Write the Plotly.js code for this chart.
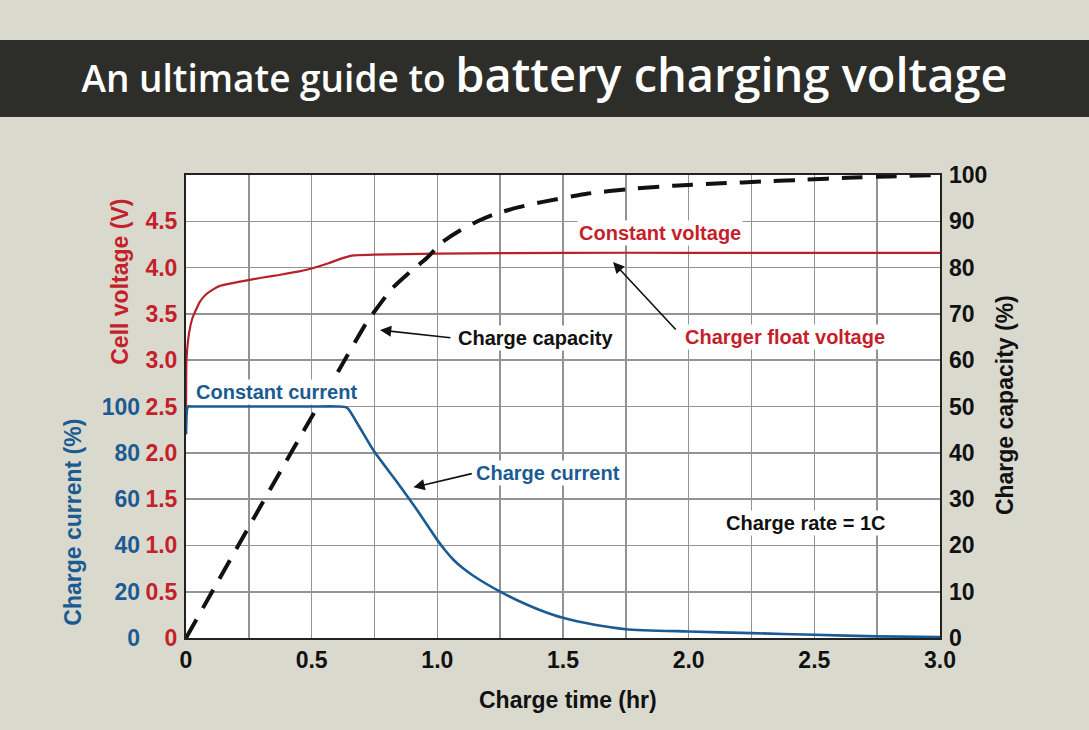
<!DOCTYPE html>
<html>
<head>
<meta charset="utf-8">
<script src="https://cdn.plot.ly/plotly-3.0.1.min.js"></script>
<style>
  html, body { margin: 0; padding: 0; background: #dad9cd; }
  #chart { width: 1089px; height: 730px; }
</style>
</head>
<body>
<div id="chart"></div>
<script>
// values
var voltTime = [0, 0.002, 0.012, 0.025, 0.039, 0.055, 0.079, 0.105, 0.132, 0.18, 0.238, 0.3, 0.37, 0.45, 0.5, 0.57, 0.62, 0.66, 0.745, 1.0, 1.5, 2.0, 2.5, 3.0];
var cellVolt = [2.2, 3.0, 3.29, 3.45, 3.54, 3.63, 3.71, 3.76, 3.8, 3.83, 3.86, 3.89, 3.92, 3.96, 3.99, 4.05, 4.1, 4.13, 4.14, 4.15, 4.16, 4.16, 4.16, 4.16];

var currTime = [0, 0.008, 0.02, 0.1, 0.3, 0.5, 0.6, 0.64, 0.68, 0.745, 0.838, 0.918, 0.998, 1.03, 1.064, 1.1, 1.143, 1.25, 1.32, 1.41, 1.5, 1.62, 1.75, 2.0, 2.25, 2.5, 2.75, 3.0];
var chargeCurrent = [88, 100, 100, 100, 100, 100, 100, 99.5, 93, 81.2, 67.6, 55.5, 42.6, 38, 33.8, 30.3, 26.9, 20, 16.2, 12, 8.7, 5.8, 3.8, 2.8, 2.1, 1.4, 0.7, 0.4];

var capTime = [0, 0.25, 0.478, 0.61, 0.717, 0.77, 0.82, 0.89, 0.957, 1.02, 1.09, 1.16, 1.22, 1.32, 1.42, 1.6, 1.77, 1.94, 2.13, 2.3, 2.47, 2.63, 2.8, 3.0];
var chargeCapacity = [0, 24, 45.7, 58, 68, 72, 75.5, 79, 82, 85.5, 88, 90, 91.4, 93, 94.2, 96, 97, 97.7, 98.2, 98.6, 99, 99.4, 99.7, 100];

var xTicks = [0, 0.25, 0.5, 0.75, 1.0, 1.25, 1.5, 1.75, 2.0, 2.25, 2.5, 2.75, 3.0];
var xTickText = ["0", "", "0.5", "", "1.0", "", "1.5", "", "2.0", "", "2.5", "", "3.0"];
var voltTicks = [0, 0.5, 1.0, 1.5, 2.0, 2.5, 3.0, 3.5, 4.0, 4.5];
var voltTickText = ["0", "0.5", "1.0", "1.5", "2.0", "2.5", "3.0", "3.5", "4.0", "4.5"];
var currTicks = [0, 20, 40, 60, 80, 100];
var capTicks = [0, 10, 20, 30, 40, 50, 60, 70, 80, 90, 100];

var RED = "#b8202b";
var RED_TEXT = "#c41f2b";
var BLUE = "#1c5b91";
var BLACK = "#111";
var FONT = "Liberation Sans, Arial, sans-serif";

var voltTrace = {
    x: voltTime,
    y: cellVolt,
    yaxis: "y",
    mode: "lines",
    line: { color: RED, width: 2.2, shape: "spline", smoothing: 0.4 },
    hoverinfo: "skip",
};

var currTrace = {
    x: currTime,
    y: chargeCurrent,
    yaxis: "y2",
    mode: "lines",
    line: { color: BLUE, width: 2.6, shape: "spline", smoothing: 0.7 },
    hoverinfo: "skip",
};

var capTrace = {
    x: capTime,
    y: chargeCapacity,
    yaxis: "y3",
    mode: "lines",
    line: { color: BLACK, width: 4, dash: "21px,13px", shape: "spline", smoothing: 0.5 },
    hoverinfo: "skip",
};

function label(text, x, y, color) {
    return {
        text: text, x: x, y: y, xref: "x", yref: "y",
        showarrow: false, bgcolor: "white", borderpad: 1,
        font: { family: FONT, size: 20, color: color, weight: "bold" },
    };
}

function arrow(x, y, ax, ay) {
    return {
        text: "", x: x, y: y, ax: ax, ay: ay,
        xref: "x", yref: "y", axref: "x", ayref: "y",
        showarrow: true, arrowhead: 2, arrowsize: 1.4, arrowwidth: 1.6,
        arrowcolor: "#111", standoff: 0, startstandoff: 0,
    };
}

function axisTitle(text, x, y, color, angle) {
    return {
        text: text, x: x, y: y, xref: "paper", yref: "paper",
        xanchor: "center", yanchor: "middle",
        showarrow: false, textangle: angle,
        font: { family: FONT, size: 23, color: color, weight: "bold" },
    };
}

var layout = {
    width: 1089,
    height: 730,
    paper_bgcolor: "#dad9cd",
    plot_bgcolor: "white",
    showlegend: false,
    margin: { l: 186, r: 149, t: 175, b: 92, pad: 0 },
    title: {
        text: '<span style="font-size:37px">An ultimate guide to </span>battery charging voltage',
        font: { family: "Open Sans, sans-serif", size: 47, color: "white", weight: 600 },
        xref: "container", yref: "container",
        x: 0.5, xanchor: "center", y: 0.896, yanchor: "middle",
    },
    xaxis: {
        range: [0, 3],
        tickvals: xTicks,
        ticktext: xTickText,
        ticks: "",
        showgrid: true,
        gridcolor: "#939393",
        gridwidth: 1.6,
        zeroline: false,
        showline: true,
        linecolor: "#222",
        linewidth: 2,
        mirror: true,
        tickfont: { family: FONT, size: 23, color: "#111", weight: "bold" },
        fixedrange: true,
    },
    yaxis: {
        range: [0, 5],
        tickvals: voltTicks,
        ticktext: voltTickText,
        ticks: "",
        ticklabelstandoff: 2,
        showgrid: true,
        gridcolor: "#939393",
        gridwidth: 1.6,
        zeroline: false,
        showline: true,
        linecolor: "#222",
        linewidth: 2,
        mirror: true,
        tickfont: { family: FONT, size: 23, color: RED_TEXT, weight: "bold" },
        fixedrange: true,
    },
    yaxis2: {
        range: [0, 200],
        overlaying: "y",
        side: "left",
        tickvals: currTicks,
        ticks: "",
        ticklabelstandoff: 45,
        showgrid: false,
        zeroline: false,
        showline: false,
        tickfont: { family: FONT, size: 23, color: BLUE, weight: "bold" },
        fixedrange: true,
    },
    yaxis3: {
        range: [0, 100],
        overlaying: "y",
        side: "right",
        tickvals: capTicks,
        ticks: "",
        ticklabelstandoff: 8,
        showgrid: false,
        zeroline: false,
        showline: false,
        tickfont: { family: FONT, size: 23, color: "#111", weight: "bold" },
        fixedrange: true,
    },
    shapes: [
        {
            type: "rect", xref: "paper", yref: "paper", layer: "below",
            x0: -0.25, x1: 1.2, y0: 1.1253, y1: 1.2916,
            fillcolor: "#2d2d29", line: { width: 0 },
        },
    ],
    annotations: [
        label("Constant voltage", 1.886, 4.374, RED_TEXT),
        label("Charger float voltage", 2.384, 3.25, RED_TEXT),
        label("Charge capacity", 1.389, 3.24, "#111"),
        label("Constant current", 0.36, 2.657, BLUE),
        label("Charge current", 1.439, 1.782, BLUE),
        label("Charge rate = 1C", 2.465, 1.242, "#111"),
        arrow(0.772, 3.326, 1.058, 3.24),
        arrow(1.699, 4.06, 1.954, 3.315),
        arrow(0.905, 1.627, 1.143, 1.779),
        axisTitle("Cell voltage (V)", -0.0875, 0.7695, RED_TEXT, -90),
        axisTitle("Charge current (%)", -0.1499, 0.2512, BLUE, -90),
        axisTitle("Charge capacity (%)", 1.0862, 0.503, "#111", -90),
        axisTitle("Charge time (hr)", 0.5066, -0.134, "#111", 0),
    ],
};

var data = [voltTrace, currTrace, capTrace];

Plotly.newPlot("chart", data, layout, { staticPlot: true });
</script>
</body>
</html>
